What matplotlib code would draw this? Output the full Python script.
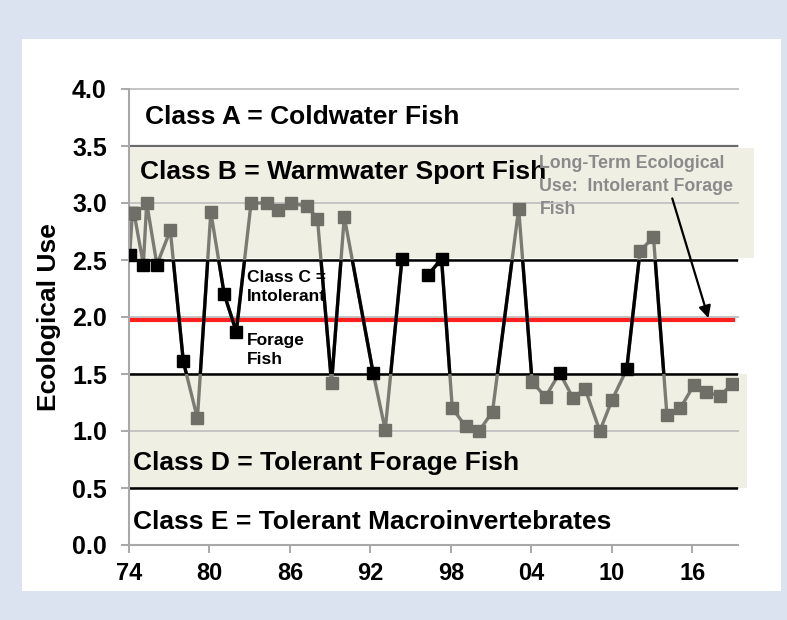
import numpy as np
import matplotlib
matplotlib.use("Agg")
import matplotlib.pyplot as plt
from matplotlib.patches import Rectangle

# ---------------- data ----------------
years = [1974.05, 1974.25, 1974.38, 1975.07, 1975.32, 1976.08, 1977.08, 1978.05,
         1979.1, 1980.1, 1981.1, 1982.0, 1983.1, 1984.3, 1985.1, 1986.1,
         1987.3, 1988.05, 1989.1, 1990.05, 1992.2, 1993.1, 1994.35, 1995.3,
         1996.3, 1997.3, 1998.1, 1999.1, 2000.1, 2001.1, 2003.05, 2004.05,
         2005.05, 2006.1, 2007.1, 2008.0, 2009.1, 2010.0, 2011.1, 2012.1,
         2013.1, 2014.1, 2015.1, 2016.1, 2017.0, 2018.05, 2018.95]
eco_use = [2.54, 2.91, 2.91, 2.46, 3.0, 2.46, 2.76, 1.61,
           1.11, 2.92, 2.20, 1.87, 3.0, 3.0, 2.94, 3.0,
           2.97, 2.86, 1.42, 2.88, 1.51, 1.01, 2.51, np.nan,
           2.37, 2.51, 1.20, 1.04, 1.00, 1.17, 2.95, 1.43,
           1.30, 1.51, 1.29, 1.37, 1.00, 1.27, 1.54, 2.58,
           2.70, 1.14, 1.20, 1.40, 1.34, 1.31, 1.41]
# 1 = sample classed as Intolerant Forage Fish (black), 0 = other (gray)
class_c = [1, 1, 0, 1, 0, 1, 0, 1,
           0, 0, 1, 1, 0, 0, 0, 0,
           0, 0, 0, 0, 1, 0, 1, 0,
           1, 1, 0, 0, 0, 0, 0, 0,
           0, 1, 0, 0, 0, 0, 1, 0,
           0, 0, 0, 0, 0, 0, 0]
long_term_use = 1.97
class_bounds = [0.5, 1.5, 2.5, 3.5]
y_ticks = [0.0, 0.5, 1.0, 1.5, 2.0, 2.5, 3.0, 3.5, 4.0]
x_tick_years = [1974, 1980, 1986, 1992, 1998, 2004, 2010, 2016]
x_tick_labels = ["74", "80", "86", "92", "98", "04", "10", "16"]
class_labels = ["Class A = Coldwater Fish", "Class B = Warmwater Sport Fish",
                "Class C =\nIntolerant", "Forage\nFish",
                "Class D = Tolerant Forage Fish",
                "Class E = Tolerant Macroinvertebrates"]
note_text = "Long-Term Ecological\nUse:  Intolerant Forage\nFish"

x = np.array(years)
y = np.array(eco_use, dtype=float)
flag = np.array(class_c, dtype=bool)

plt.rcParams['font.family'] = ['Liberation Sans', 'DejaVu Sans']
plt.rcParams['font.weight'] = 'bold'

W, H = 787, 620
fig = plt.figure(figsize=(W / 100, H / 100), dpi=100)
fig.patch.set_facecolor('#DAE3EF')
fig.add_artist(Rectangle((22 / W, 1 - 591 / H), (781 - 22) / W, (591 - 39) / H,
                         transform=fig.transFigure, facecolor='white',
                         edgecolor='none', zorder=0))

ax = fig.add_axes([129 / W, 1 - 545 / H, (738 - 129) / W, (545 - 89) / H])
ax.set_facecolor('none')
x0, x1 = 1974.0, 2019.4
ax.set_xlim(x0, x1)
ax.set_ylim(0, 4.0)

shade = '#EFEFE3'
# Class B and Class D shaded bands
ax.add_patch(Rectangle((x0, 2.52), 2020.57 - x0, 3.48 - 2.52, facecolor=shade,
                       edgecolor='none', zorder=0.5, clip_on=False))
ax.add_patch(Rectangle((x0, 0.5), 2020.05 - x0, 1.0, facecolor=shade,
                       edgecolor='none', zorder=0.5, clip_on=False))

# gridlines
for v in y_ticks:
    ax.axhline(v, color='#C4C4C4', lw=1.4, zorder=1, clip_on=False)
ax.axhline(3.5, color='#6A6A6A', lw=1.6, zorder=1.5)
for v in class_bounds[:3]:
    ax.axhline(v, color='black', lw=1.8, zorder=2)
ax.plot([x0, 2019.0], [long_term_use, long_term_use], color='#FF1F1F', lw=3, zorder=2.5)

# series line: gray overall, black inside the Class C band
ax.plot(x, y, color='#7B7B73', lw=2.4, zorder=3, solid_joinstyle='miter')
blk, = ax.plot(x, y, color='black', lw=2.4, zorder=3.2)
clip = Rectangle((x0 - 5, 1.5), 60, 1.0, transform=ax.transData)
blk.set_clip_path(clip)

ax.plot(x[flag], y[flag], 's', color='black', ms=8.5, zorder=5, lw=0)
ax.plot(x[~flag], y[~flag], 's', color='#6F6F67', ms=8.5, zorder=6, lw=0)

# texts
big = 19
ax.text(1975.2, 3.75, class_labels[0], fontsize=big, fontweight='bold', va='center', ha='left', zorder=7)
ax.text(1974.8, 3.27, class_labels[1], fontsize=big, fontweight='bold', va='center', ha='left', zorder=7)
ax.text(1982.8, 2.26, class_labels[2], fontsize=12.5, fontweight='bold', va='center', ha='left',
        linespacing=1.35, zorder=7)
ax.text(1982.8, 1.71, class_labels[3], fontsize=12.5, fontweight='bold', va='center', ha='left',
        linespacing=1.3, zorder=7)
ax.text(1974.3, 0.72, class_labels[4], fontsize=big, fontweight='bold', va='center', ha='left', zorder=7)
ax.text(1974.3, 0.20, class_labels[5], fontsize=big, fontweight='bold', va='center', ha='left', zorder=7)
ax.text(2004.6, 3.42, note_text, fontsize=12.8, fontweight='bold', color='#8A8A8A',
        va='top', ha='left', linespacing=1.45, zorder=7)
ax.annotate('', xy=(2017.2, 1.99), xytext=(2014.5, 3.04),
            arrowprops=dict(arrowstyle='-|>', color='black', lw=1.6,
                            mutation_scale=18, shrinkA=0, shrinkB=0), zorder=8)

# axes styling
for s in ['top', 'right']:
    ax.spines[s].set_visible(False)
for s in ['left', 'bottom']:
    ax.spines[s].set_color('#A8A8A8')
    ax.spines[s].set_linewidth(1.5)
    ax.spines[s].set_zorder(4)
ax.set_yticks(y_ticks)
ax.set_yticklabels([f"{v:.1f}" for v in y_ticks], fontsize=18, fontweight='bold')
ax.set_xticks(x_tick_years)
ax.set_xticklabels(x_tick_labels, fontsize=17, fontweight='bold')
ax.tick_params(axis='y', length=6, width=1.4, color='#A8A8A8', pad=10)
ax.tick_params(axis='x', length=6, width=1.4, color='#A8A8A8', pad=6)
ax.set_ylabel('Ecological Use', fontsize=19, fontweight='bold', labelpad=8)

fig.savefig('out.png', dpi=100, facecolor=fig.get_facecolor())
